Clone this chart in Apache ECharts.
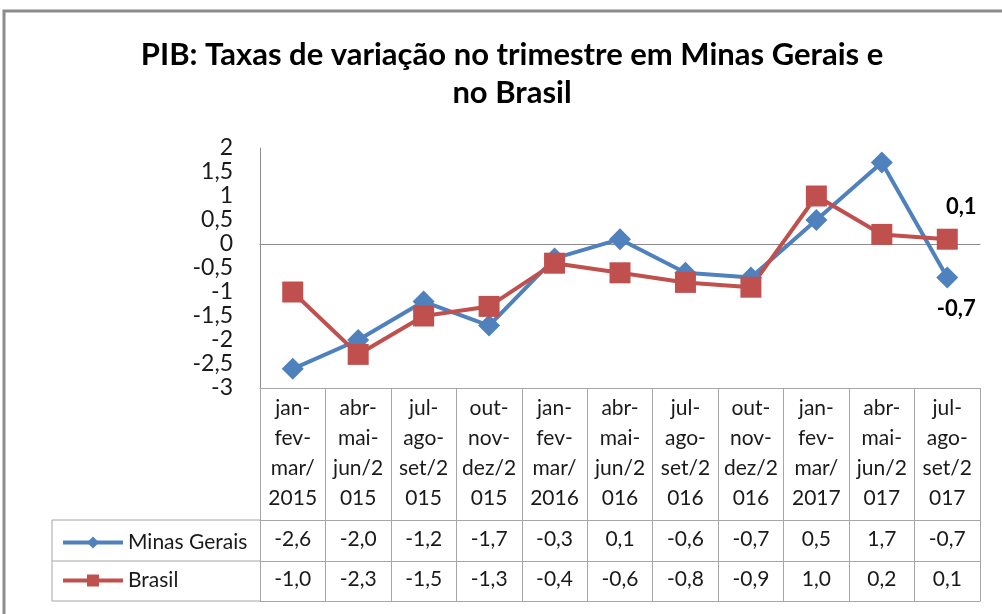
<!DOCTYPE html>
<html>
<head>
<meta charset="utf-8">
<script src="https://cdn.jsdelivr.net/npm/echarts@6/dist/echarts.min.js"></script>
<style>
  html, body { margin: 0; padding: 0; background: #fff; }
  #chart { width: 1002px; height: 614px; }
</style>
</head>
<body>
<div id="chart"></div>
<script>
// trimestres (quebrados como no Excel)
var categories = [
  'jan-\nfev-\nmar/\n2015', 'abr-\nmai-\njun/2\n015', 'jul-\nago-\nset/2\n015', 'out-\nnov-\ndez/2\n015',
  'jan-\nfev-\nmar/\n2016', 'abr-\nmai-\njun/2\n016', 'jul-\nago-\nset/2\n016', 'out-\nnov-\ndez/2\n016',
  'jan-\nfev-\nmar/\n2017', 'abr-\nmai-\njun/2\n017', 'jul-\nago-\nset/2\n017'
];
var minasGerais = [-2.6, -2.0, -1.2, -1.7, -0.3, 0.1, -0.6, -0.7, 0.5, 1.7, -0.7];
var brasil = [-1.0, -2.3, -1.5, -1.3, -0.4, -0.6, -0.8, -0.9, 1.0, 0.2, 0.1];

var FONT = 'Lato';
var GRID_LINE = '#a6a6a6';

function fmt(v) {
  return Number(v).toFixed(1).replace('.', ',');
}
function fmtTick(v) {
  return String(v).replace('.', ',');
}

var chart = echarts.init(document.getElementById('chart'));

var lastIdx = categories.length - 1;

// eixo extra usado como linha da tabela de dados
function tableAxis(offset, labels, margin) {
  return {
    type: 'category',
    gridIndex: 0,
    position: 'bottom',
    offset: offset,
    data: labels,
    axisLine: { show: true, onZero: false, lineStyle: { color: GRID_LINE, width: 1 } },
    axisTick: { show: false },
    axisLabel: {
      show: labels !== null,
      interval: 0,
      margin: margin,
      fontFamily: FONT,
      fontSize: 21,
      color: '#1a1a1a'
    },
    splitLine: { show: false }
  };
}

var option = {
  animation: false,
  backgroundColor: '#ffffff',
  title: {
    text: 'PIB: Taxas de variação no trimestre em Minas Gerais e\nno Brasil',
    left: 507,
    top: 31,
    textAlign: 'center',
    textStyle: {
      fontFamily: FONT,
      fontSize: 31,
      fontWeight: 'bold',
      lineHeight: 38,
      color: '#000'
    }
  },
  legend: {
    orient: 'vertical',
    left: 56,
    top: 527,
    itemGap: 17,
    itemWidth: 60,
    itemHeight: 15,
    lineStyle: { width: 4 },
    textStyle: { fontFamily: FONT, fontSize: 21, color: '#1a1a1a' },
    data: ['Minas Gerais', 'Brasil']
  },
  grid: {
    left: 260,
    right: 22,
    top: 148,
    bottom: 226,
    containLabel: false
  },
  xAxis: [
    {
      type: 'category',
      data: categories,
      boundaryGap: true,
      axisLine: { show: true, onZero: true, lineStyle: { color: '#8c8c8c', width: 1 } },
      axisTick: { show: false },
      axisLabel: { show: false },
      splitLine: { show: false }
    },
    {
      type: 'category',
      position: 'bottom',
      data: categories,
      boundaryGap: true,
      axisLine: { show: true, onZero: false, lineStyle: { color: GRID_LINE, width: 1 } },
      axisTick: {
        show: true,
        alignWithLabel: false,
        interval: 0,
        length: 213,
        lineStyle: { color: GRID_LINE, width: 1 }
      },
      axisLabel: {
        interval: 0,
        margin: 5,
        lineHeight: 30,
        fontFamily: FONT,
        fontSize: 21,
        color: '#1a1a1a'
      },
      splitLine: { show: false }
    },
    tableAxis(132, minasGerais.map(fmt), 9),
    tableAxis(173, brasil.map(fmt), 8),
    tableAxis(213, null, 0)
  ],
  yAxis: {
    type: 'value',
    min: -3,
    max: 2,
    interval: 0.5,
    axisLine: { show: true, lineStyle: { color: '#8c8c8c', width: 1 } },
    axisTick: { show: false },
    splitLine: { show: false },
    axisLabel: {
      margin: 27,
      fontFamily: FONT,
      fontSize: 23,
      color: '#1a1a1a',
      formatter: fmtTick
    }
  },
  series: [
    {
      name: 'Minas Gerais',
      type: 'line',
      xAxisIndex: 0,
      data: minasGerais,
      symbol: 'diamond',
      symbolSize: 22,
      lineStyle: { color: '#4f81bd', width: 4 },
      itemStyle: { color: '#4f81bd' },
      label: {
        show: true,
        position: 'bottom',
        offset: [9, 4],
        fontFamily: FONT,
        fontSize: 22,
        fontWeight: 'bold',
        color: '#000',
        formatter: function (p) { return p.dataIndex === lastIdx ? fmt(p.value) : ''; }
      }
    },
    {
      name: 'Brasil',
      type: 'line',
      xAxisIndex: 0,
      data: brasil,
      symbol: 'rect',
      symbolSize: 21,
      lineStyle: { color: '#c0504d', width: 4 },
      itemStyle: { color: '#c0504d' },
      label: {
        show: true,
        position: 'top',
        offset: [14, -6],
        fontFamily: FONT,
        fontSize: 22,
        fontWeight: 'bold',
        color: '#000',
        formatter: function (p) { return p.dataIndex === lastIdx ? fmt(p.value) : ''; }
      }
    }
  ],
  graphic: [
    // moldura do gráfico (só topo e esquerda aparecem)
    { type: 'rect', shape: { x: 4, y: 11, width: 1020, height: 640 }, style: { fill: 'none', stroke: '#8c8c8c', lineWidth: 3 }, silent: true },
    // células da legenda na tabela
    { type: 'line', shape: { x1: 52, y1: 520, x2: 260, y2: 520 }, style: { stroke: GRID_LINE, lineWidth: 1 }, silent: true },
    { type: 'line', shape: { x1: 52, y1: 561, x2: 260, y2: 561 }, style: { stroke: GRID_LINE, lineWidth: 1 }, silent: true },
    { type: 'line', shape: { x1: 52, y1: 601, x2: 260, y2: 601 }, style: { stroke: GRID_LINE, lineWidth: 1 }, silent: true },
    { type: 'line', shape: { x1: 52, y1: 520, x2: 52, y2: 601 }, style: { stroke: GRID_LINE, lineWidth: 1 }, silent: true }
  ]
};

chart.setOption(option);
</script>
</body>
</html>
